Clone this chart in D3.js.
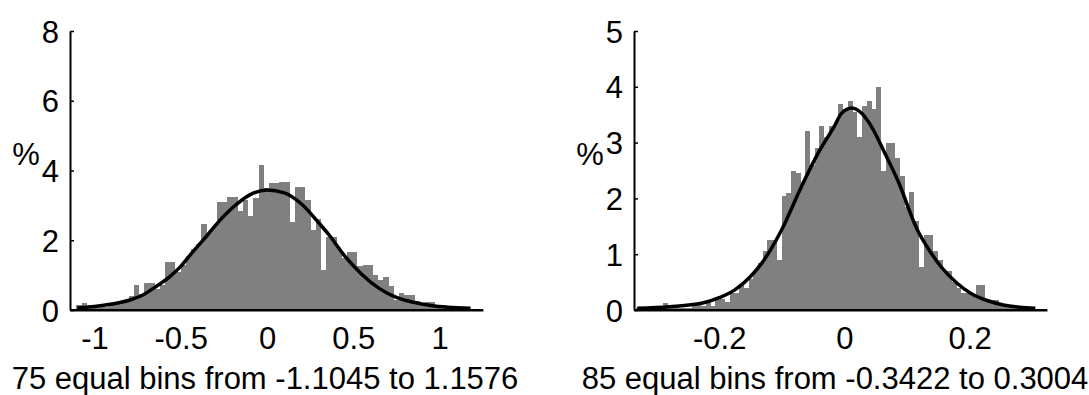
<!DOCTYPE html>
<html>
<head>
<meta charset="utf-8">
<script src="https://cdn.jsdelivr.net/npm/d3@7"></script>
<style>
  body { margin: 0; background: #fff; }
  svg text { font-family: "Liberation Sans", Arial, sans-serif; font-size: 31px; fill: #000; }
</style>
</head>
<body>
<div id="chart"></div>
<script>
'use strict';

// ============================================================
//  Two histograms (percent per bin) with a fitted curve on top.
//  Values.
// ============================================================

// ── Left panel data ─────────────────────────────────────────
const leftRange = [-1.1045, 1.1576];           // 75 equal bins
const leftPercent = [
  0.13, 0.20, 0.13, 0.07, 0.13, 0.10, 0.20, 0.17, 0.27, 0.30,
  0.40, 0.72, 0.47, 0.76, 0.76, 0.60, 0.73, 1.38, 1.38, 1.10,
  1.30, 1.55, 1.75, 1.90, 2.48, 2.20, 2.40, 3.10, 3.10, 3.25,
  3.25, 2.85, 3.15, 2.70, 3.20, 4.15, 3.50, 3.63, 3.63, 3.68,
  3.68, 2.53, 3.53, 3.53, 3.15, 2.29, 2.60, 1.15, 2.10, 2.10,
  1.75, 1.50, 1.67, 1.67, 1.25, 1.29, 1.29, 1.00, 0.85, 0.95,
  0.70, 0.30, 0.50, 0.43, 0.43, 0.25, 0.20, 0.24, 0.24, 0.14,
  0.14, 0.10, 0.10, 0.07, 0.04
];
const leftCurveX = [-1.10, -1.0, -0.9, -0.8, -0.72, -0.65, -0.565, -0.5, -0.43, -0.35,
                    -0.3, -0.2, -0.1, 0, 0.1, 0.2, 0.3, 0.36, 0.45, 0.55,
                    0.65, 0.75, 0.85, 0.95, 1.05, 1.18];
const leftCurveY = [0.06, 0.10, 0.17, 0.28, 0.43, 0.65, 0.95, 1.25, 1.67, 2.12,
                    2.42, 2.93, 3.30, 3.44, 3.36, 3.04, 2.50, 2.15, 1.55, 1.02,
                    0.62, 0.36, 0.22, 0.13, 0.08, 0.05];
const leftXLim = [-1.142, 1.252];
const leftYLim = [0, 8];
const leftXTicks = [-1, -0.5, 0, 0.5, 1];
const leftYTicks = [0, 2, 4, 6, 8];
const leftLabel = '75 equal bins from -1.1045 to 1.1576';

// ── Right panel data ────────────────────────────────────────
const rightRange = [-0.3422, 0.3004];          // 85 equal bins
const rightPercent = [
  0.04, 0.04, 0.04, 0.04, 0.04, 0.04, 0.04, 0.13, 0.04, 0.04,
  0.04, 0.04, 0.04, 0.08, 0.12, 0.08, 0.12, 0.08, 0.20, 0.20,
  0.15, 0.30, 0.30, 0.45, 0.40, 0.55, 0.70, 0.85, 1.05, 1.25,
  1.25, 0.90, 2.05, 2.10, 2.50, 2.45, 2.30, 3.20, 2.60, 2.90,
  3.30, 3.10, 3.30, 3.35, 3.70, 3.60, 3.75, 3.55, 3.10, 3.65,
  3.75, 3.60, 4.00, 2.50, 3.00, 3.00, 2.72, 2.40, 1.85, 2.12,
  1.60, 0.77, 1.34, 1.34, 1.05, 0.90, 0.69, 0.69, 0.50, 0.40,
  0.30, 0.30, 0.25, 0.45, 0.45, 0.15, 0.18, 0.18, 0.10, 0.07,
  0.07, 0.04, 0.04, 0.04, 0.04
];
const rightCurveX = [-0.331, -0.28, -0.228, -0.2, -0.175, -0.15, -0.132, -0.1006, -0.0687, -0.042,
                     -0.0158, -0.005, 0.012, 0.028, 0.0425, 0.065, 0.085, 0.1168, 0.135, 0.154,
                     0.18, 0.2016, 0.228, 0.254, 0.28, 0.305];
const rightCurveY = [0.03, 0.06, 0.12, 0.22, 0.36, 0.60, 0.84, 1.43, 2.21, 2.81,
                     3.30, 3.52, 3.62, 3.52, 3.30, 2.80, 2.33, 1.43, 1.08, 0.78,
                     0.48, 0.30, 0.17, 0.09, 0.05, 0.03];
const rightXLim = [-0.3361, 0.3236];
const rightYLim = [0, 5];
const rightXTicks = [-0.2, 0, 0.2];
const rightYTicks = [0, 1, 2, 3, 4, 5];
const rightLabel = '85 equal bins from -0.3422 to 0.3004';

// ── Canvas ──────────────────────────────────────────────────
const totalW = 1089, totalH = 395;
const svg = d3.select('#chart').append('svg')
    .attr('width', totalW)
    .attr('height', totalH);

const panels = [
  { id: 'l', left: 70, right: 483, top: 31, bottom: 310, labelX: 265,
    range: leftRange, pct: leftPercent, cx: leftCurveX, cy: leftCurveY,
    xLim: leftXLim, yLim: leftYLim, xTicks: leftXTicks, yTicks: leftYTicks, label: leftLabel },
  { id: 'r', left: 634, right: 1047, top: 31, bottom: 310, labelX: 835,
    range: rightRange, pct: rightPercent, cx: rightCurveX, cy: rightCurveY,
    xLim: rightXLim, yLim: rightYLim, xTicks: rightXTicks, yTicks: rightYTicks, label: rightLabel }
];

panels.forEach(drawPanel);

function drawPanel(p) {
  const x = d3.scaleLinear().domain(p.xLim).range([p.left, p.right]);
  const y = d3.scaleLinear().domain(p.yLim).range([p.bottom, p.top]);

  // axes first, so the bars hide the inward x ticks (like layer=bottom)
  const gx = svg.append('g')
      .attr('transform', `translate(0,${p.bottom})`)
      .call(d3.axisBottom(x).tickValues(p.xTicks)
          .tickSizeInner(-4).tickSizeOuter(0).tickPadding(17)
          .tickFormat(d => String(d)));

  const gy = svg.append('g')
      .attr('transform', `translate(${p.left},0)`)
      .call(d3.axisLeft(y).tickValues(p.yTicks)
          .tickSizeInner(-4).tickSizeOuter(0).tickPadding(11)
          .tickFormat(d => String(d)));
  gy.selectAll('.tick text').attr('dy', '0.36em');

  [gx, gy].forEach(g => {
    g.attr('font-size', null).attr('font-family', null);
    g.select('.domain').attr('stroke', '#000').attr('stroke-width', 2);
    g.selectAll('.tick line').attr('stroke', '#000').attr('stroke-width', 1.5);
  });

  // clip marks to the plotting box
  svg.append('clipPath').attr('id', 'clip-' + p.id)
    .append('rect')
      .attr('x', p.left + 1).attr('y', p.top - 5)
      .attr('width', p.right - p.left - 1).attr('height', p.bottom - p.top + 5);

  const plot = svg.append('g').attr('clip-path', `url(#clip-${p.id})`);

  // ── bars ──
  const n = p.pct.length;
  const w = (p.range[1] - p.range[0]) / n;
  const bins = p.pct.map((v, i) => ({ x0: p.range[0] + i * w, x1: p.range[0] + (i + 1) * w, v }));

  plot.selectAll('rect.bar')
    .data(bins)
    .join('rect')
      .attr('class', 'bar')
      .attr('x', d => x(d.x0))
      .attr('width', d => x(d.x1) - x(d.x0))
      .attr('y', d => y(d.v))
      .attr('height', d => y(0) - y(d.v))
      .attr('fill', '#808080')
      .attr('shape-rendering', 'crispEdges');

  // ── fitted curve ──
  const pts = p.cx.map((cx, i) => [cx, p.cy[i]]);
  plot.append('path')
    .datum(pts)
    .attr('fill', 'none')
    .attr('stroke', '#000')
    .attr('stroke-width', 3.5)
    .attr('stroke-linejoin', 'round')
    .attr('d', d3.line().x(d => x(d[0])).y(d => y(d[1])).curve(d3.curveMonotoneX));

  // baseline back on top of the bars
  svg.append('line')
    .attr('x1', p.left).attr('x2', p.right)
    .attr('y1', y(0)).attr('y2', y(0))
    .attr('stroke', '#000').attr('stroke-width', 2);

  // ── labels ──
  svg.append('text')
    .attr('x', p.left - 44)
    .attr('y', 165)
    .attr('text-anchor', 'middle')
    .text('%');

  svg.append('text')
    .attr('x', p.labelX)
    .attr('y', 389)
    .attr('text-anchor', 'middle')
    .text(p.label);
}
</script>
</body>
</html>
